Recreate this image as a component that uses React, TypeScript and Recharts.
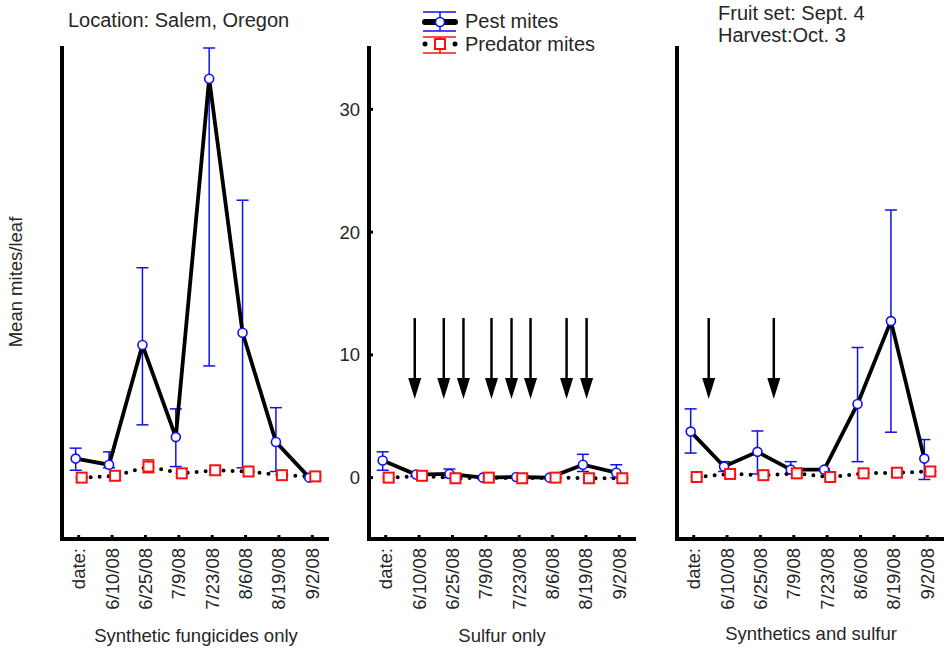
import React from 'react'
import { ComposedChart, Line, Scatter, XAxis, YAxis, ErrorBar, ReferenceLine } from 'recharts'

const dates = ['date:', '6/10/08', '6/25/08', '7/9/08', '7/23/08', '8/6/08', '8/19/08', '9/2/08']
const yTicks = [0, 10, 20, 30]

// Synthetic fungicides only
const synPest = [1.55, 1.05, 10.8, 3.3, 32.5, 11.8, 2.9, 0.0]
const synPestLo = [0.6, 0.8, 4.3, 0.9, 9.1, 0.8, 0.5, 0.0]
const synPestHi = [2.4, 2.1, 17.1, 5.6, 35.0, 22.6, 5.7, 0.0]
const synPred = [0.0, 0.15, 0.9, 0.35, 0.6, 0.5, 0.2, 0.1]
const synPredLo = [0.0, 0.15, 0.4, 0.35, 0.6, 0.5, 0.2, 0.1]
const synPredHi = [0.0, 0.15, 1.45, 0.35, 0.6, 0.5, 0.2, 0.1]

// Sulfur only
const sulPest = [1.4, 0.25, 0.3, 0.0, 0.05, 0.0, 1.05, 0.4]
const sulPestLo = [0.6, 0.1, 0.0, 0.0, 0.0, 0.0, 0.5, 0.0]
const sulPestHi = [2.1, 0.4, 0.7, 0.1, 0.1, 0.05, 1.9, 1.05]
const sulPred = [0.0, 0.15, -0.05, 0.0, -0.05, 0.0, -0.05, -0.05]
const sulSprays = [0.87, 1.74, 2.33, 3.17, 3.77, 4.34, 5.42, 6.02]

// Synthetics and sulfur
const mixPest = [3.75, 0.9, 2.1, 0.65, 0.65, 6.0, 12.75, 1.55]
const mixPestLo = [2.0, 0.5, 0.3, 0.3, 0.6, 1.3, 3.7, -0.15]
const mixPestHi = [5.6, 1.3, 3.8, 1.3, 0.7, 10.6, 21.8, 3.1]
const mixPred = [0.05, 0.3, 0.2, 0.35, 0.05, 0.35, 0.4, 0.5]
const mixSprays = [0.45, 2.4]

const arrowTop = 13
const arrowTip = 6.4

const FONT = '"Liberation Sans", Arial, sans-serif'
const TEXT = '#262626'
const BLUE = '#1010ee'
const RED = '#ff1010'
const DODGE = 0.09

const rows = (vals: number[], lo: number[], hi: number[], shift: number) =>
  vals.map((v, i) => ({ x: i + shift, y: v, err: [v - lo[i], hi[i] - v] }))

const DateTick = ({ x, y, payload }: any) => (
  <text
    x={x}
    y={y}
    transform={`rotate(-90 ${x} ${y})`}
    textAnchor="end"
    dy="0.35em"
    fontSize={18.5}
    fill={TEXT}
    fontFamily={FONT}
  >
    {dates[payload.value]}
  </text>
)

const PestDot = ({ cx, cy, index }: any) => (
  <circle key={index} cx={cx} cy={cy} r={4.5} fill="#fff" stroke={BLUE} strokeWidth={1.6} />
)

const PredDot = ({ cx, cy, index }: any) => (
  <rect key={index} x={cx - 5} y={cy - 5} width={10} height={10} fill="#fff" stroke={RED} strokeWidth={2} />
)

const ArrowHead = ({ cx, cy }: any) => (
  <polygon points={`${cx - 6.5},${cy - 21} ${cx + 6.5},${cy - 21} ${cx},${cy}`} fill="#000" />
)

type PanelProps = {
  left: number
  pest: number[]
  pestLo: number[]
  pestHi: number[]
  pred: number[]
  predLo?: number[]
  predHi?: number[]
  sprays?: number[]
  showY?: boolean
}

function Panel({ left, pest, pestLo, pestHi, pred, predLo, predHi, sprays = [], showY }: PanelProps) {
  const pestRows = rows(pest, pestLo, pestHi, -DODGE)
  const predRows = rows(pred, predLo || pred, predHi || pred, DODGE)
  return (
    <div style={{ position: 'absolute', left, top: 0 }}>
      <ComposedChart width={317} height={649} margin={{ top: 48, right: 0, bottom: 40, left: 0 }}>
        <XAxis
          type="number"
          dataKey="x"
          domain={[-0.5, 7.5]}
          ticks={dates.map((_, i) => i)}
          interval={0}
          height={70}
          axisLine={{ stroke: '#000', strokeWidth: 4, strokeLinecap: 'square' }}
          tickLine={{ stroke: '#000', strokeWidth: 3 }}
          tickSize={-4}
          tickMargin={13}
          tick={<DateTick />}
          allowDataOverflow
        />
        <YAxis
          type="number"
          domain={[-5, 35]}
          ticks={yTicks}
          width={50}
          axisLine={{ stroke: '#000', strokeWidth: 4, strokeLinecap: 'square' }}
          tickLine={{ stroke: '#000', strokeWidth: 3 }}
          tickSize={-4}
          tickMargin={13}
          tick={showY ? { fontSize: 18.5, fill: TEXT, fontFamily: FONT } : false}
          allowDataOverflow
        />
        {sprays.map((s, i) => (
          <ReferenceLine
            key={i}
            segment={[{ x: s, y: arrowTop }, { x: s, y: arrowTip + 1 }]}
            stroke="#000"
            strokeWidth={2.5}
          />
        ))}
        {sprays.length > 0 && (
          <Scatter
            data={sprays.map(s => ({ x: s, y: arrowTip }))}
            dataKey="y"
            shape={<ArrowHead />}
            isAnimationActive={false}
          />
        )}
        <Line
          data={pestRows}
          dataKey="y"
          type="linear"
          stroke="#000"
          strokeWidth={3.8}
          dot={(p: any) => <PestDot key={p.index} {...p} />}
          activeDot={false}
          isAnimationActive={false}
        >
          <ErrorBar dataKey="err" width={6} stroke={BLUE} strokeWidth={1.5} direction="y" />
        </Line>
        <Line
          data={predRows}
          dataKey="y"
          type="linear"
          stroke="#000"
          strokeWidth={4}
          strokeDasharray="0 9"
          strokeLinecap="round"
          dot={(p: any) => <PredDot key={p.index} {...p} />}
          activeDot={false}
          isAnimationActive={false}
        >
          <ErrorBar dataKey="err" width={6} stroke={RED} strokeWidth={1.5} direction="y" />
        </Line>
      </ComposedChart>
    </div>
  )
}

export default function App() {
  return (
    <div
      style={{
        position: 'absolute',
        left: 0,
        top: 0,
        width: 946,
        height: 649,
        background: '#fff',
        overflow: 'hidden',
        fontFamily: FONT,
      }}
    >
      <Panel left={12} pest={synPest} pestLo={synPestLo} pestHi={synPestHi} pred={synPred} predLo={synPredLo} predHi={synPredHi} />
      <Panel left={319} pest={sulPest} pestLo={sulPestLo} pestHi={sulPestHi} pred={sulPred} sprays={sulSprays} showY />
      <Panel left={627} pest={mixPest} pestLo={mixPestLo} pestHi={mixPestHi} pred={mixPred} sprays={mixSprays} />

      <svg width={946} height={649} style={{ position: 'absolute', left: 0, top: 0, pointerEvents: 'none' }}>
        <g fontFamily={FONT} fontSize={20} fill={TEXT}>
          <text x={68} y={27}>Location: Salem, Oregon</text>
          <text x={718} y={20}>Fruit set: Sept. 4</text>
          <text x={718} y={42}>Harvest:Oct. 3</text>
          <text x={465} y={28}>Pest mites</text>
          <text x={465} y={51}>Predator mites</text>
        </g>
        <g fontFamily={FONT} fontSize={18.5} fill={TEXT}>
          <text x={196} y={642} textAnchor="middle">Synthetic fungicides only</text>
          <text x={502} y={642} textAnchor="middle">Sulfur only</text>
          <text x={811} y={640} textAnchor="middle">Synthetics and sulfur</text>
          <text x={0} y={0} transform="translate(22 282) rotate(-90)" textAnchor="middle">Mean mites/leaf</text>
        </g>
        {/* legend swatches */}
        <line x1={423} x2={456} y1={12} y2={12} stroke={BLUE} strokeWidth={1.5} />
        <line x1={423} x2={456} y1={31} y2={31} stroke={BLUE} strokeWidth={1.5} />
        <line x1={440} x2={440} y1={12} y2={31} stroke={BLUE} strokeWidth={1.5} />
        <line x1={425} x2={455} y1={22} y2={22} stroke="#000" strokeWidth={6} strokeLinecap="round" />
        <circle cx={440} cy={22} r={4.5} fill="#fff" stroke={BLUE} strokeWidth={1.6} />
        <line x1={423} x2={456} y1={37} y2={37} stroke={RED} strokeWidth={1.5} />
        <line x1={423} x2={456} y1={53} y2={53} stroke={RED} strokeWidth={1.5} />
        <line x1={440} x2={440} y1={37} y2={53} stroke={RED} strokeWidth={1.5} />
        <circle cx={425} cy={44} r={2.5} fill="#000" />
        <circle cx={455} cy={44} r={2.5} fill="#000" />
        <rect x={435} y={39} width={10} height={10} fill="#fff" stroke={RED} strokeWidth={2} />
      </svg>
    </div>
  )
}
